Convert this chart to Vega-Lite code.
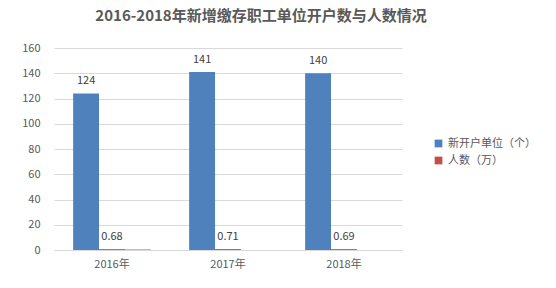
{
  "$schema": "https://vega.github.io/schema/vega-lite/v6.json",
  "autosize": "none",
  "width": 348,
  "height": 202,
  "padding": {"left": 54, "top": 48, "right": 154, "bottom": 38},
  "background": "white",
  "title": {
    "text": "2016-2018年新增缴存职工单位开户数与人数情况",
    "font": "Noto Sans CJK SC",
    "fontSize": 15,
    "fontWeight": "bold",
    "color": "#595959",
    "anchor": "middle",
    "dx": 33,
    "offset": 18
  },
  "data": {
    "values": [
      {"year": "2016年", "series": "新开户单位（个）", "value": 124, "label": "124"},
      {"year": "2016年", "series": "人数（万）", "value": 0.68, "label": "0.68"},
      {"year": "2016年", "series": "其他", "value": 0.5, "label": ""},
      {"year": "2017年", "series": "新开户单位（个）", "value": 141, "label": "141"},
      {"year": "2017年", "series": "人数（万）", "value": 0.71, "label": "0.71"},
      {"year": "2018年", "series": "新开户单位（个）", "value": 140, "label": "140"},
      {"year": "2018年", "series": "人数（万）", "value": 0.69, "label": "0.69"}
    ]
  },
  "encoding": {
    "x": {
      "field": "year", "type": "nominal", "title": null,
      "scale": {"paddingInner": 0.33, "paddingOuter": 0.165},
      "axis": {"labelAngle": 0, "labelFont": "Noto Sans CJK SC", "labelFontSize": 11, "labelColor": "#595959", "ticks": false, "domainColor": "#d9d9d9", "labelPadding": 8}
    },
    "xOffset": {
      "field": "series", "type": "nominal",
      "scale": {"domain": ["新开户单位（个）", "人数（万）", "其他"], "paddingInner": 0, "paddingOuter": 0}
    },
    "y": {
      "field": "value", "type": "quantitative", "title": null,
      "scale": {"domain": [0, 160], "nice": false},
      "axis": {"values": [0, 20, 40, 60, 80, 100, 120, 140, 160], "labelFont": "Noto Sans CJK SC", "labelFontSize": 11, "labelColor": "#595959", "ticks": false, "domain": false, "gridColor": "#d9d9d9", "labelPadding": 14}
    }
  },
  "layer": [
    {
      "mark": {"type": "bar"},
      "encoding": {
        "color": {
          "field": "series", "type": "nominal",
          "scale": {"domain": ["新开户单位（个）", "人数（万）", "其他"], "range": ["#4F81BD", "#C0504D", "#9BBB59"]},
          "legend": {
            "values": ["新开户单位（个）", "人数（万）"],
            "title": null, "orient": "none", "legendX": 379, "legendY": 90,
            "symbolType": "square", "symbolSize": 60, "symbolStrokeWidth": 0,
            "labelFont": "Noto Sans CJK SC", "labelFontSize": 11, "labelColor": "#595959",
            "rowPadding": 5
          }
        }
      }
    },
    {
      "mark": {"type": "text", "baseline": "bottom", "dy": -7, "font": "Noto Sans CJK SC", "fontSize": 11, "color": "#404040"},
      "encoding": {"text": {"field": "label", "type": "nominal"}}
    }
  ],
  "config": {"view": {"stroke": null}}
}
